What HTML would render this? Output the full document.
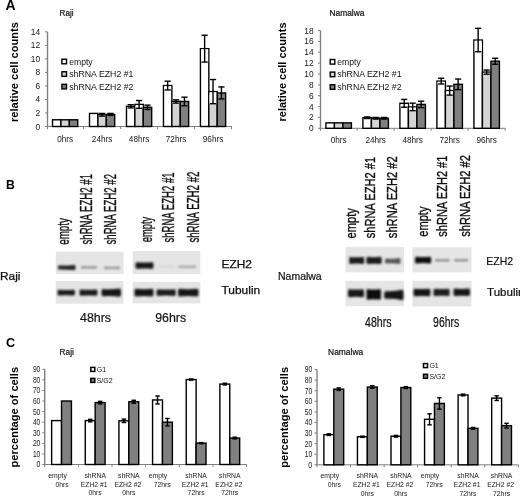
<!DOCTYPE html><html><head><meta charset="utf-8"><style>html,body{margin:0;padding:0;background:#fff;}svg{display:block;filter:grayscale(1);}text{font-family:"Liberation Sans",sans-serif;}</style></head><body>
<svg width="520" height="496" viewBox="0 0 520 496">
<defs><filter id="b1" x="-20%" y="-50%" width="140%" height="200%"><feGaussianBlur stdDeviation="1.0"/></filter><filter id="b2" x="-20%" y="-50%" width="140%" height="200%"><feGaussianBlur stdDeviation="0.6"/></filter></defs>
<rect width="520" height="496" fill="#fff"/>
<text x="5.60" y="9.60" font-size="14.0" font-weight="bold" text-anchor="start" fill="#000">A</text>
<line x1="47.50" y1="31.86" x2="47.50" y2="126.50" stroke="#808080" stroke-width="1.4"/>
<line x1="45.00" y1="126.50" x2="47.50" y2="126.50" stroke="#808080" stroke-width="1"/>
<text x="40.20" y="129.50" font-size="8.4" text-anchor="end" fill="#151515">0</text>
<line x1="45.00" y1="112.98" x2="47.50" y2="112.98" stroke="#808080" stroke-width="1"/>
<text x="40.20" y="115.98" font-size="8.4" text-anchor="end" fill="#151515">2</text>
<line x1="45.00" y1="99.46" x2="47.50" y2="99.46" stroke="#808080" stroke-width="1"/>
<text x="40.20" y="102.46" font-size="8.4" text-anchor="end" fill="#151515">4</text>
<line x1="45.00" y1="85.94" x2="47.50" y2="85.94" stroke="#808080" stroke-width="1"/>
<text x="40.20" y="88.94" font-size="8.4" text-anchor="end" fill="#151515">6</text>
<line x1="45.00" y1="72.42" x2="47.50" y2="72.42" stroke="#808080" stroke-width="1"/>
<text x="40.20" y="75.42" font-size="8.4" text-anchor="end" fill="#151515">8</text>
<line x1="45.00" y1="58.90" x2="47.50" y2="58.90" stroke="#808080" stroke-width="1"/>
<text x="40.20" y="61.90" font-size="8.4" text-anchor="end" fill="#151515">10</text>
<line x1="45.00" y1="45.38" x2="47.50" y2="45.38" stroke="#808080" stroke-width="1"/>
<text x="40.20" y="48.38" font-size="8.4" text-anchor="end" fill="#151515">12</text>
<line x1="45.00" y1="31.86" x2="47.50" y2="31.86" stroke="#808080" stroke-width="1"/>
<text x="40.20" y="34.86" font-size="8.4" text-anchor="end" fill="#151515">14</text>
<line x1="46.50" y1="126.50" x2="231.70" y2="126.50" stroke="#808080" stroke-width="1"/>
<line x1="47.50" y1="126.50" x2="47.50" y2="129.00" stroke="#808080" stroke-width="1"/>
<line x1="83.62" y1="126.50" x2="83.62" y2="129.00" stroke="#808080" stroke-width="1"/>
<line x1="120.59" y1="126.50" x2="120.59" y2="129.00" stroke="#808080" stroke-width="1"/>
<line x1="157.57" y1="126.50" x2="157.57" y2="129.00" stroke="#808080" stroke-width="1"/>
<line x1="194.54" y1="126.50" x2="194.54" y2="129.00" stroke="#808080" stroke-width="1"/>
<line x1="231.52" y1="126.50" x2="231.52" y2="129.00" stroke="#808080" stroke-width="1"/>
<rect x="52.53" y="119.79" width="8.40" height="6.71" fill="#ffffff" stroke="#000" stroke-width="1.4"/>
<rect x="60.93" y="119.79" width="8.40" height="6.71" fill="#d4d4d4" stroke="#000" stroke-width="1.4"/>
<rect x="69.33" y="119.79" width="8.40" height="6.71" fill="#808080" stroke="#000" stroke-width="1.4"/>
<text x="65.13" y="141.50" font-size="8.2" text-anchor="middle" fill="#151515">0hrs</text>
<rect x="89.50" y="113.42" width="8.40" height="13.08" fill="#ffffff" stroke="#000" stroke-width="1.4"/>
<rect x="97.91" y="114.76" width="8.40" height="11.74" fill="#d4d4d4" stroke="#000" stroke-width="1.4"/>
<rect x="98.61" y="115.46" width="7.00" height="0.64" fill="#fff"/>
<line x1="102.11" y1="113.42" x2="102.11" y2="116.10" stroke="#000" stroke-width="1.4"/>
<line x1="99.01" y1="113.42" x2="105.20" y2="113.42" stroke="#000" stroke-width="1.4"/>
<line x1="99.01" y1="116.10" x2="105.20" y2="116.10" stroke="#000" stroke-width="1.4"/>
<rect x="106.30" y="114.42" width="8.40" height="12.08" fill="#808080" stroke="#000" stroke-width="1.4"/>
<line x1="110.50" y1="113.42" x2="110.50" y2="115.43" stroke="#000" stroke-width="1.4"/>
<line x1="107.41" y1="113.42" x2="113.60" y2="113.42" stroke="#000" stroke-width="1.4"/>
<line x1="107.41" y1="115.43" x2="113.60" y2="115.43" stroke="#000" stroke-width="1.4"/>
<text x="102.10" y="141.50" font-size="8.2" text-anchor="middle" fill="#151515">24hrs</text>
<rect x="126.48" y="106.30" width="8.40" height="20.20" fill="#ffffff" stroke="#000" stroke-width="1.4"/>
<rect x="127.18" y="107.00" width="7.00" height="0.91" fill="#fff"/>
<line x1="130.68" y1="104.69" x2="130.68" y2="107.91" stroke="#000" stroke-width="1.4"/>
<line x1="127.58" y1="104.69" x2="133.78" y2="104.69" stroke="#000" stroke-width="1.4"/>
<line x1="127.58" y1="107.91" x2="133.78" y2="107.91" stroke="#000" stroke-width="1.4"/>
<rect x="134.88" y="104.42" width="8.40" height="22.08" fill="#d4d4d4" stroke="#000" stroke-width="1.4"/>
<rect x="135.58" y="105.12" width="7.00" height="3.19" fill="#fff"/>
<line x1="139.08" y1="100.53" x2="139.08" y2="108.32" stroke="#000" stroke-width="1.4"/>
<line x1="135.98" y1="100.53" x2="142.18" y2="100.53" stroke="#000" stroke-width="1.4"/>
<line x1="135.98" y1="108.32" x2="142.18" y2="108.32" stroke="#000" stroke-width="1.4"/>
<rect x="143.28" y="107.31" width="8.40" height="19.19" fill="#808080" stroke="#000" stroke-width="1.4"/>
<line x1="147.48" y1="105.16" x2="147.48" y2="109.46" stroke="#000" stroke-width="1.4"/>
<line x1="144.38" y1="105.16" x2="150.58" y2="105.16" stroke="#000" stroke-width="1.4"/>
<line x1="144.38" y1="109.46" x2="150.58" y2="109.46" stroke="#000" stroke-width="1.4"/>
<text x="139.08" y="141.50" font-size="8.2" text-anchor="middle" fill="#151515">48hrs</text>
<rect x="163.46" y="85.57" width="8.40" height="40.93" fill="#ffffff" stroke="#000" stroke-width="1.4"/>
<rect x="164.16" y="86.27" width="7.00" height="3.66" fill="#fff"/>
<line x1="167.66" y1="81.21" x2="167.66" y2="89.93" stroke="#000" stroke-width="1.4"/>
<line x1="164.56" y1="81.21" x2="170.75" y2="81.21" stroke="#000" stroke-width="1.4"/>
<line x1="164.56" y1="89.93" x2="170.75" y2="89.93" stroke="#000" stroke-width="1.4"/>
<rect x="171.86" y="101.47" width="8.40" height="25.03" fill="#d4d4d4" stroke="#000" stroke-width="1.4"/>
<rect x="172.56" y="102.17" width="7.00" height="0.91" fill="#fff"/>
<line x1="176.06" y1="99.86" x2="176.06" y2="103.08" stroke="#000" stroke-width="1.4"/>
<line x1="172.96" y1="99.86" x2="179.16" y2="99.86" stroke="#000" stroke-width="1.4"/>
<line x1="172.96" y1="103.08" x2="179.16" y2="103.08" stroke="#000" stroke-width="1.4"/>
<rect x="180.26" y="101.47" width="8.40" height="25.03" fill="#808080" stroke="#000" stroke-width="1.4"/>
<line x1="184.46" y1="97.18" x2="184.46" y2="105.77" stroke="#000" stroke-width="1.4"/>
<line x1="181.36" y1="97.18" x2="187.56" y2="97.18" stroke="#000" stroke-width="1.4"/>
<line x1="181.36" y1="105.77" x2="187.56" y2="105.77" stroke="#000" stroke-width="1.4"/>
<text x="176.06" y="141.50" font-size="8.2" text-anchor="middle" fill="#151515">72hrs</text>
<rect x="200.43" y="48.66" width="8.40" height="77.84" fill="#ffffff" stroke="#000" stroke-width="1.4"/>
<rect x="201.13" y="49.36" width="7.00" height="12.72" fill="#fff"/>
<line x1="204.63" y1="35.24" x2="204.63" y2="62.08" stroke="#000" stroke-width="1.4"/>
<line x1="201.53" y1="35.24" x2="207.73" y2="35.24" stroke="#000" stroke-width="1.4"/>
<line x1="201.53" y1="62.08" x2="207.73" y2="62.08" stroke="#000" stroke-width="1.4"/>
<rect x="208.83" y="91.61" width="8.40" height="34.89" fill="#d4d4d4" stroke="#000" stroke-width="1.4"/>
<rect x="209.53" y="92.31" width="7.00" height="11.38" fill="#fff"/>
<line x1="213.03" y1="79.53" x2="213.03" y2="103.69" stroke="#000" stroke-width="1.4"/>
<line x1="209.93" y1="79.53" x2="216.13" y2="79.53" stroke="#000" stroke-width="1.4"/>
<line x1="209.93" y1="103.69" x2="216.13" y2="103.69" stroke="#000" stroke-width="1.4"/>
<rect x="217.23" y="92.95" width="8.40" height="33.55" fill="#808080" stroke="#000" stroke-width="1.4"/>
<line x1="221.43" y1="86.91" x2="221.43" y2="98.99" stroke="#000" stroke-width="1.4"/>
<line x1="218.33" y1="86.91" x2="224.53" y2="86.91" stroke="#000" stroke-width="1.4"/>
<line x1="218.33" y1="98.99" x2="224.53" y2="98.99" stroke="#000" stroke-width="1.4"/>
<text x="213.03" y="141.50" font-size="8.2" text-anchor="middle" fill="#151515">96hrs</text>
<text x="59.60" y="16.20" font-size="8.3" text-anchor="start" fill="#111" textLength="13.90" lengthAdjust="spacingAndGlyphs" stroke="#111" stroke-width="0.2">Raji</text>
<text transform="translate(17.80,122.00) rotate(-90)" font-size="11.2" font-weight="bold" text-anchor="start" fill="#000" textLength="100.00" lengthAdjust="spacingAndGlyphs">relative cell counts</text>
<rect x="61.90" y="59.20" width="4.60" height="4.60" fill="#ffffff" stroke="#000" stroke-width="1.4"/>
<text x="69.20" y="64.50" font-size="8.6" text-anchor="start" fill="#111">empty</text>
<rect x="61.90" y="71.75" width="4.60" height="4.60" fill="#d4d4d4" stroke="#000" stroke-width="1.4"/>
<text x="69.20" y="77.05" font-size="8.6" text-anchor="start" fill="#111" textLength="64.30" lengthAdjust="spacingAndGlyphs">shRNA EZH2 #1</text>
<rect x="61.90" y="84.30" width="4.60" height="4.60" fill="#808080" stroke="#000" stroke-width="1.4"/>
<text x="69.20" y="89.60" font-size="8.6" text-anchor="start" fill="#111" textLength="64.30" lengthAdjust="spacingAndGlyphs">shRNA EZH2 #2</text>
<line x1="320.50" y1="30.56" x2="320.50" y2="128.30" stroke="#808080" stroke-width="1.4"/>
<line x1="318.00" y1="128.30" x2="320.50" y2="128.30" stroke="#808080" stroke-width="1"/>
<text x="313.60" y="131.30" font-size="8.4" text-anchor="end" fill="#151515">0</text>
<line x1="318.00" y1="117.44" x2="320.50" y2="117.44" stroke="#808080" stroke-width="1"/>
<text x="313.60" y="120.44" font-size="8.4" text-anchor="end" fill="#151515">2</text>
<line x1="318.00" y1="106.58" x2="320.50" y2="106.58" stroke="#808080" stroke-width="1"/>
<text x="313.60" y="109.58" font-size="8.4" text-anchor="end" fill="#151515">4</text>
<line x1="318.00" y1="95.72" x2="320.50" y2="95.72" stroke="#808080" stroke-width="1"/>
<text x="313.60" y="98.72" font-size="8.4" text-anchor="end" fill="#151515">6</text>
<line x1="318.00" y1="84.86" x2="320.50" y2="84.86" stroke="#808080" stroke-width="1"/>
<text x="313.60" y="87.86" font-size="8.4" text-anchor="end" fill="#151515">8</text>
<line x1="318.00" y1="74.00" x2="320.50" y2="74.00" stroke="#808080" stroke-width="1"/>
<text x="313.60" y="77.00" font-size="8.4" text-anchor="end" fill="#151515">10</text>
<line x1="318.00" y1="63.14" x2="320.50" y2="63.14" stroke="#808080" stroke-width="1"/>
<text x="313.60" y="66.14" font-size="8.4" text-anchor="end" fill="#151515">12</text>
<line x1="318.00" y1="52.28" x2="320.50" y2="52.28" stroke="#808080" stroke-width="1"/>
<text x="313.60" y="55.28" font-size="8.4" text-anchor="end" fill="#151515">14</text>
<line x1="318.00" y1="41.42" x2="320.50" y2="41.42" stroke="#808080" stroke-width="1"/>
<text x="313.60" y="44.42" font-size="8.4" text-anchor="end" fill="#151515">16</text>
<line x1="318.00" y1="30.56" x2="320.50" y2="30.56" stroke="#808080" stroke-width="1"/>
<text x="313.60" y="33.56" font-size="8.4" text-anchor="end" fill="#151515">18</text>
<line x1="319.50" y1="128.30" x2="505.00" y2="128.30" stroke="#808080" stroke-width="1"/>
<line x1="320.50" y1="128.30" x2="320.50" y2="130.80" stroke="#808080" stroke-width="1"/>
<line x1="357.16" y1="128.30" x2="357.16" y2="130.80" stroke="#808080" stroke-width="1"/>
<line x1="394.16" y1="128.30" x2="394.16" y2="130.80" stroke="#808080" stroke-width="1"/>
<line x1="431.16" y1="128.30" x2="431.16" y2="130.80" stroke="#808080" stroke-width="1"/>
<line x1="468.16" y1="128.30" x2="468.16" y2="130.80" stroke="#808080" stroke-width="1"/>
<line x1="505.16" y1="128.30" x2="505.16" y2="130.80" stroke="#808080" stroke-width="1"/>
<rect x="325.91" y="122.87" width="8.50" height="5.43" fill="#ffffff" stroke="#000" stroke-width="1.4"/>
<rect x="334.41" y="122.87" width="8.50" height="5.43" fill="#d4d4d4" stroke="#000" stroke-width="1.4"/>
<rect x="342.91" y="122.87" width="8.50" height="5.43" fill="#808080" stroke="#000" stroke-width="1.4"/>
<text x="338.66" y="143.00" font-size="8.2" text-anchor="middle" fill="#151515">0hrs</text>
<rect x="362.91" y="117.71" width="8.50" height="10.59" fill="#ffffff" stroke="#000" stroke-width="1.4"/>
<rect x="363.61" y="118.41" width="7.10" height="0.11" fill="#fff"/>
<line x1="367.16" y1="116.90" x2="367.16" y2="118.53" stroke="#000" stroke-width="1.4"/>
<line x1="364.06" y1="116.90" x2="370.26" y2="116.90" stroke="#000" stroke-width="1.4"/>
<line x1="364.06" y1="118.53" x2="370.26" y2="118.53" stroke="#000" stroke-width="1.4"/>
<rect x="371.41" y="118.25" width="8.50" height="10.05" fill="#d4d4d4" stroke="#000" stroke-width="1.4"/>
<rect x="372.11" y="118.95" width="7.10" height="0.11" fill="#fff"/>
<line x1="375.66" y1="117.44" x2="375.66" y2="119.07" stroke="#000" stroke-width="1.4"/>
<line x1="372.56" y1="117.44" x2="378.76" y2="117.44" stroke="#000" stroke-width="1.4"/>
<line x1="372.56" y1="119.07" x2="378.76" y2="119.07" stroke="#000" stroke-width="1.4"/>
<rect x="379.91" y="118.25" width="8.50" height="10.05" fill="#808080" stroke="#000" stroke-width="1.4"/>
<line x1="384.16" y1="117.44" x2="384.16" y2="119.07" stroke="#000" stroke-width="1.4"/>
<line x1="381.06" y1="117.44" x2="387.26" y2="117.44" stroke="#000" stroke-width="1.4"/>
<line x1="381.06" y1="119.07" x2="387.26" y2="119.07" stroke="#000" stroke-width="1.4"/>
<text x="375.66" y="143.00" font-size="8.2" text-anchor="middle" fill="#151515">24hrs</text>
<rect x="399.91" y="103.32" width="8.50" height="24.98" fill="#ffffff" stroke="#000" stroke-width="1.4"/>
<rect x="400.61" y="104.02" width="7.10" height="3.21" fill="#fff"/>
<line x1="404.16" y1="99.41" x2="404.16" y2="107.23" stroke="#000" stroke-width="1.4"/>
<line x1="401.06" y1="99.41" x2="407.26" y2="99.41" stroke="#000" stroke-width="1.4"/>
<line x1="401.06" y1="107.23" x2="407.26" y2="107.23" stroke="#000" stroke-width="1.4"/>
<rect x="408.41" y="106.91" width="8.50" height="21.39" fill="#d4d4d4" stroke="#000" stroke-width="1.4"/>
<rect x="409.11" y="107.61" width="7.10" height="3.05" fill="#fff"/>
<line x1="412.66" y1="103.16" x2="412.66" y2="110.65" stroke="#000" stroke-width="1.4"/>
<line x1="409.56" y1="103.16" x2="415.76" y2="103.16" stroke="#000" stroke-width="1.4"/>
<line x1="409.56" y1="110.65" x2="415.76" y2="110.65" stroke="#000" stroke-width="1.4"/>
<rect x="416.91" y="104.41" width="8.50" height="23.89" fill="#808080" stroke="#000" stroke-width="1.4"/>
<line x1="421.16" y1="101.20" x2="421.16" y2="107.61" stroke="#000" stroke-width="1.4"/>
<line x1="418.06" y1="101.20" x2="424.26" y2="101.20" stroke="#000" stroke-width="1.4"/>
<line x1="418.06" y1="107.61" x2="424.26" y2="107.61" stroke="#000" stroke-width="1.4"/>
<text x="412.66" y="143.00" font-size="8.2" text-anchor="middle" fill="#151515">48hrs</text>
<rect x="436.91" y="81.11" width="8.50" height="47.19" fill="#ffffff" stroke="#000" stroke-width="1.4"/>
<rect x="437.61" y="81.81" width="7.10" height="2.18" fill="#fff"/>
<line x1="441.16" y1="78.24" x2="441.16" y2="83.99" stroke="#000" stroke-width="1.4"/>
<line x1="438.06" y1="78.24" x2="444.26" y2="78.24" stroke="#000" stroke-width="1.4"/>
<line x1="438.06" y1="83.99" x2="444.26" y2="83.99" stroke="#000" stroke-width="1.4"/>
<rect x="445.41" y="90.56" width="8.50" height="37.74" fill="#d4d4d4" stroke="#000" stroke-width="1.4"/>
<rect x="446.11" y="91.26" width="7.10" height="3.81" fill="#fff"/>
<line x1="449.66" y1="86.05" x2="449.66" y2="95.07" stroke="#000" stroke-width="1.4"/>
<line x1="446.56" y1="86.05" x2="452.76" y2="86.05" stroke="#000" stroke-width="1.4"/>
<line x1="446.56" y1="95.07" x2="452.76" y2="95.07" stroke="#000" stroke-width="1.4"/>
<rect x="453.91" y="84.32" width="8.50" height="43.98" fill="#808080" stroke="#000" stroke-width="1.4"/>
<line x1="458.16" y1="79.05" x2="458.16" y2="89.58" stroke="#000" stroke-width="1.4"/>
<line x1="455.06" y1="79.05" x2="461.26" y2="79.05" stroke="#000" stroke-width="1.4"/>
<line x1="455.06" y1="89.58" x2="461.26" y2="89.58" stroke="#000" stroke-width="1.4"/>
<text x="449.66" y="143.00" font-size="8.2" text-anchor="middle" fill="#151515">72hrs</text>
<rect x="473.91" y="40.06" width="8.50" height="88.24" fill="#ffffff" stroke="#000" stroke-width="1.4"/>
<rect x="474.61" y="40.76" width="7.10" height="11.03" fill="#fff"/>
<line x1="478.16" y1="28.33" x2="478.16" y2="51.79" stroke="#000" stroke-width="1.4"/>
<line x1="475.06" y1="28.33" x2="481.26" y2="28.33" stroke="#000" stroke-width="1.4"/>
<line x1="475.06" y1="51.79" x2="481.26" y2="51.79" stroke="#000" stroke-width="1.4"/>
<rect x="482.41" y="72.10" width="8.50" height="56.20" fill="#d4d4d4" stroke="#000" stroke-width="1.4"/>
<rect x="483.11" y="72.80" width="7.10" height="1.36" fill="#fff"/>
<line x1="486.66" y1="70.04" x2="486.66" y2="74.16" stroke="#000" stroke-width="1.4"/>
<line x1="483.56" y1="70.04" x2="489.76" y2="70.04" stroke="#000" stroke-width="1.4"/>
<line x1="483.56" y1="74.16" x2="489.76" y2="74.16" stroke="#000" stroke-width="1.4"/>
<rect x="490.91" y="61.24" width="8.50" height="67.06" fill="#808080" stroke="#000" stroke-width="1.4"/>
<line x1="495.16" y1="58.25" x2="495.16" y2="64.23" stroke="#000" stroke-width="1.4"/>
<line x1="492.06" y1="58.25" x2="498.26" y2="58.25" stroke="#000" stroke-width="1.4"/>
<line x1="492.06" y1="64.23" x2="498.26" y2="64.23" stroke="#000" stroke-width="1.4"/>
<text x="486.66" y="143.00" font-size="8.2" text-anchor="middle" fill="#151515">96hrs</text>
<text x="329.50" y="15.60" font-size="8.3" text-anchor="start" fill="#111" textLength="34.90" lengthAdjust="spacingAndGlyphs" stroke="#111" stroke-width="0.2">Namalwa</text>
<text transform="translate(286.00,121.50) rotate(-90)" font-size="11.2" font-weight="bold" text-anchor="start" fill="#000" textLength="99.00" lengthAdjust="spacingAndGlyphs">relative cell counts</text>
<rect x="330.20" y="59.50" width="4.60" height="4.60" fill="#ffffff" stroke="#000" stroke-width="1.4"/>
<text x="337.30" y="64.80" font-size="8.6" text-anchor="start" fill="#111">empty</text>
<rect x="330.20" y="72.10" width="4.60" height="4.60" fill="#d4d4d4" stroke="#000" stroke-width="1.4"/>
<text x="337.30" y="77.40" font-size="8.6" text-anchor="start" fill="#111" textLength="64.30" lengthAdjust="spacingAndGlyphs">shRNA EZH2 #1</text>
<rect x="330.20" y="84.70" width="4.60" height="4.60" fill="#808080" stroke="#000" stroke-width="1.4"/>
<text x="337.30" y="90.00" font-size="8.6" text-anchor="start" fill="#111" textLength="64.30" lengthAdjust="spacingAndGlyphs">shRNA EZH2 #2</text>
<text x="6.00" y="189.40" font-size="12.2" font-weight="bold" text-anchor="start" fill="#000">B</text>
<rect x="55.80" y="251.80" width="67.70" height="22.40" fill="#e5e5e5" filter="url(#b2)"/>
<path d="M58.00,266.82 Q58.00,265.55 59.05,265.55 Q66.75,265.64 74.45,264.97 Q75.50,264.97 75.50,266.61 L75.50,268.39 Q75.50,270.03 74.45,270.03 Q66.75,269.36 59.05,269.45 Q58.00,269.45 58.00,268.18 Z" fill="#222" filter="url(#b1)"/>
<path d="M81.00,266.94 Q81.00,266.10 81.96,266.10 Q89.00,266.35 96.04,266.10 Q97.00,266.10 97.00,266.94 L97.00,267.85 Q97.00,268.70 96.04,268.70 Q89.00,268.45 81.96,268.70 Q81.00,268.70 81.00,267.85 Z" fill="#989898" filter="url(#b1)"/>
<path d="M104.00,267.44 Q104.00,266.60 104.96,266.60 Q112.00,266.85 119.04,266.60 Q120.00,266.60 120.00,267.44 L120.00,268.35 Q120.00,269.20 119.04,269.20 Q112.00,268.95 104.96,269.20 Q104.00,269.20 104.00,268.35 Z" fill="#9c9c9c" filter="url(#b1)"/>
<rect x="55.80" y="281.00" width="67.70" height="22.70" fill="#e5e5e5" filter="url(#b2)"/>
<path d="M57.50,291.62 Q57.50,289.80 58.55,289.80 Q66.25,290.34 73.95,289.80 Q75.00,289.80 75.00,291.62 L75.00,293.58 Q75.00,295.40 73.95,295.40 Q66.25,294.86 58.55,295.40 Q57.50,295.40 57.50,293.58 Z" fill="#1e1e1e" filter="url(#b1)"/>
<path d="M79.50,291.48 Q79.50,289.40 80.58,289.40 Q88.50,290.02 96.42,289.40 Q97.50,289.40 97.50,291.48 L97.50,293.72 Q97.50,295.80 96.42,295.80 Q88.50,295.18 80.58,295.80 Q79.50,295.80 79.50,293.72 Z" fill="#1e1e1e" filter="url(#b1)"/>
<path d="M101.50,291.34 Q101.50,289.00 102.67,289.00 Q111.25,289.69 119.83,288.46 Q121.00,288.46 121.00,291.15 L121.00,294.05 Q121.00,296.74 119.83,296.74 Q111.25,295.51 102.67,296.20 Q101.50,296.20 101.50,293.86 Z" fill="#181818" filter="url(#b1)"/>
<rect x="132.70" y="251.00" width="67.70" height="23.20" fill="#e5e5e5" filter="url(#b2)"/>
<path d="M135.50,264.38 Q135.50,262.30 136.58,262.30 Q144.50,262.92 152.42,262.30 Q153.50,262.30 153.50,264.38 L153.50,266.62 Q153.50,268.70 152.42,268.70 Q144.50,268.08 136.58,268.70 Q135.50,268.70 135.50,266.62 Z" fill="#151515" filter="url(#b1)"/>
<path d="M158.00,266.22 Q158.00,265.70 159.02,265.70 Q166.50,265.85 173.98,265.70 Q175.00,265.70 175.00,266.22 L175.00,266.78 Q175.00,267.30 173.98,267.30 Q166.50,267.15 159.02,267.30 Q158.00,267.30 158.00,266.78 Z" fill="#d2d2d2" filter="url(#b1)"/>
<path d="M178.50,266.35 Q178.50,265.50 179.55,265.50 Q187.25,265.75 194.95,265.50 Q196.00,265.50 196.00,266.35 L196.00,267.25 Q196.00,268.10 194.95,268.10 Q187.25,267.85 179.55,268.10 Q178.50,268.10 178.50,267.25 Z" fill="#a8a8a8" filter="url(#b1)"/>
<rect x="132.70" y="281.80" width="67.70" height="21.60" fill="#e5e5e5" filter="url(#b2)"/>
<path d="M134.50,291.27 Q134.50,288.80 135.64,288.80 Q144.00,289.53 152.36,288.80 Q153.50,288.80 153.50,291.27 L153.50,293.93 Q153.50,296.40 152.36,296.40 Q144.00,295.67 135.64,296.40 Q134.50,296.40 134.50,293.93 Z" fill="#181818" filter="url(#b1)"/>
<path d="M156.50,291.45 Q156.50,289.30 157.66,289.30 Q166.15,289.94 174.64,289.30 Q175.80,289.30 175.80,291.45 L175.80,293.75 Q175.80,295.90 174.64,295.90 Q166.15,295.26 157.66,295.90 Q156.50,295.90 156.50,293.75 Z" fill="#1e1e1e" filter="url(#b1)"/>
<path d="M178.00,291.27 Q178.00,288.80 179.23,288.80 Q188.25,289.53 197.27,288.80 Q198.50,288.80 198.50,291.27 L198.50,293.93 Q198.50,296.40 197.27,296.40 Q188.25,295.67 179.23,296.40 Q178.00,296.40 178.00,293.93 Z" fill="#181818" filter="url(#b1)"/>
<rect x="345.50" y="246.90" width="58.40" height="25.40" fill="#e5e5e5" filter="url(#b2)"/>
<path d="M349.20,259.17 Q349.20,256.90 350.10,256.90 Q356.70,257.57 363.30,256.90 Q364.20,256.90 364.20,259.17 L364.20,261.62 Q364.20,263.90 363.30,263.90 Q356.70,263.23 350.10,263.90 Q349.20,263.90 349.20,261.62 Z" fill="#1a1a1a" filter="url(#b1)"/>
<path d="M366.50,259.14 Q366.50,256.80 367.41,256.80 Q374.05,257.49 380.69,256.80 Q381.60,256.80 381.60,259.14 L381.60,261.66 Q381.60,264.00 380.69,264.00 Q374.05,263.31 367.41,264.00 Q366.50,264.00 366.50,261.66 Z" fill="#1a1a1a" filter="url(#b1)"/>
<path d="M385.00,260.15 Q385.00,258.57 385.92,258.57 Q392.70,259.08 399.48,257.89 Q400.40,257.89 400.40,259.91 L400.40,262.09 Q400.40,264.11 399.48,264.11 Q392.70,262.92 385.92,263.43 Q385.00,263.43 385.00,261.85 Z" fill="#555555" filter="url(#b1)"/>
<rect x="345.50" y="280.80" width="58.40" height="25.40" fill="#e5e5e5" filter="url(#b2)"/>
<path d="M348.00,291.80 Q348.00,289.20 348.96,289.20 Q356.00,289.97 363.04,289.20 Q364.00,289.20 364.00,291.80 L364.00,294.60 Q364.00,297.20 363.04,297.20 Q356.00,296.43 348.96,297.20 Q348.00,297.20 348.00,294.60 Z" fill="#151515" filter="url(#b1)"/>
<path d="M366.50,292.54 Q366.50,289.10 367.37,289.10 Q373.75,290.12 380.13,289.10 Q381.00,289.10 381.00,292.54 L381.00,296.25 Q381.00,299.70 380.13,299.70 Q373.75,298.68 367.37,299.70 Q366.50,299.70 366.50,296.25 Z" fill="#111111" filter="url(#b1)"/>
<path d="M384.20,293.65 Q384.20,291.13 385.36,291.13 Q393.85,291.73 402.34,289.84 Q403.50,289.84 403.50,293.19 L403.50,296.81 Q403.50,300.16 402.34,300.16 Q393.85,298.27 385.36,298.87 Q384.20,298.87 384.20,296.35 Z" fill="#151515" filter="url(#b1)"/>
<rect x="412.40" y="247.40" width="59.10" height="24.90" fill="#e5e5e5" filter="url(#b2)"/>
<path d="M415.00,258.95 Q415.00,256.80 415.97,256.80 Q423.10,257.44 430.23,256.80 Q431.20,256.80 431.20,258.95 L431.20,261.25 Q431.20,263.40 430.23,263.40 Q423.10,262.76 415.97,263.40 Q415.00,263.40 415.00,261.25 Z" fill="#0e0e0e" filter="url(#b1)"/>
<path d="M435.00,259.88 Q435.00,259.10 435.88,259.10 Q442.30,259.33 448.72,259.10 Q449.60,259.10 449.60,259.88 L449.60,260.72 Q449.60,261.50 448.72,261.50 Q442.30,261.27 435.88,261.50 Q435.00,261.50 435.00,260.72 Z" fill="#8f8f8f" filter="url(#b1)"/>
<path d="M454.20,259.88 Q454.20,259.10 455.03,259.10 Q461.10,259.33 467.17,259.10 Q468.00,259.10 468.00,259.88 L468.00,260.72 Q468.00,261.50 467.17,261.50 Q461.10,261.27 455.03,261.50 Q454.20,261.50 454.20,260.72 Z" fill="#8f8f8f" filter="url(#b1)"/>
<rect x="412.40" y="280.80" width="59.10" height="25.70" fill="#e5e5e5" filter="url(#b2)"/>
<path d="M413.50,291.17 Q413.50,288.70 414.51,288.70 Q421.95,289.43 429.39,288.70 Q430.40,288.70 430.40,291.17 L430.40,293.83 Q430.40,296.30 429.39,296.30 Q421.95,295.57 414.51,296.30 Q413.50,296.30 413.50,293.83 Z" fill="#181818" filter="url(#b1)"/>
<path d="M433.50,291.10 Q433.50,288.70 434.47,288.70 Q441.55,289.41 448.63,288.70 Q449.60,288.70 449.60,291.10 L449.60,293.69 Q449.60,296.10 448.63,296.10 Q441.55,295.39 434.47,296.10 Q433.50,296.10 433.50,293.69 Z" fill="#1e1e1e" filter="url(#b1)"/>
<path d="M453.50,291.00 Q453.50,288.60 454.49,288.60 Q461.75,289.31 469.01,288.60 Q470.00,288.60 470.00,291.00 L470.00,293.60 Q470.00,296.00 469.01,296.00 Q461.75,295.29 454.49,296.00 Q453.50,296.00 453.50,293.60 Z" fill="#181818" filter="url(#b1)"/>
<text transform="translate(69.00,244.80) rotate(-90)" font-size="15.6" text-anchor="start" fill="#111" textLength="26.70" lengthAdjust="spacingAndGlyphs" stroke="#111" stroke-width="0.35">empty</text>
<text transform="translate(91.80,244.50) rotate(-90)" font-size="15.6" text-anchor="start" fill="#111" textLength="70.50" lengthAdjust="spacingAndGlyphs" stroke="#111" stroke-width="0.35">shRNA EZH2 #1</text>
<text transform="translate(116.00,244.50) rotate(-90)" font-size="15.6" text-anchor="start" fill="#111" textLength="70.50" lengthAdjust="spacingAndGlyphs" stroke="#111" stroke-width="0.35">shRNA EZH2 #2</text>
<text transform="translate(152.20,242.30) rotate(-90)" font-size="15.6" text-anchor="start" fill="#111" textLength="25.50" lengthAdjust="spacingAndGlyphs" stroke="#111" stroke-width="0.35">empty</text>
<text transform="translate(174.30,242.60) rotate(-90)" font-size="15.6" text-anchor="start" fill="#111" textLength="70.20" lengthAdjust="spacingAndGlyphs" stroke="#111" stroke-width="0.35">shRNA EZH2 #1</text>
<text transform="translate(199.30,242.60) rotate(-90)" font-size="15.6" text-anchor="start" fill="#111" textLength="71.00" lengthAdjust="spacingAndGlyphs" stroke="#111" stroke-width="0.35">shRNA EZH2 #2</text>
<text transform="translate(355.60,238.40) rotate(-90)" font-size="14.0" text-anchor="start" fill="#111" textLength="30.20" lengthAdjust="spacingAndGlyphs" stroke="#111" stroke-width="0.35">empty</text>
<text transform="translate(375.30,238.20) rotate(-90)" font-size="14.0" text-anchor="start" fill="#111" textLength="81.30" lengthAdjust="spacingAndGlyphs" stroke="#111" stroke-width="0.35">shRNA EZH2 #1</text>
<text transform="translate(396.90,238.20) rotate(-90)" font-size="14.0" text-anchor="start" fill="#111" textLength="81.90" lengthAdjust="spacingAndGlyphs" stroke="#111" stroke-width="0.35">shRNA EZH2 #2</text>
<text transform="translate(428.20,236.70) rotate(-90)" font-size="14.0" text-anchor="start" fill="#111" textLength="30.20" lengthAdjust="spacingAndGlyphs" stroke="#111" stroke-width="0.35">empty</text>
<text transform="translate(447.30,236.70) rotate(-90)" font-size="14.0" text-anchor="start" fill="#111" textLength="81.10" lengthAdjust="spacingAndGlyphs" stroke="#111" stroke-width="0.35">shRNA EZH2 #1</text>
<text transform="translate(469.50,236.70) rotate(-90)" font-size="14.0" text-anchor="start" fill="#111" textLength="81.70" lengthAdjust="spacingAndGlyphs" stroke="#111" stroke-width="0.35">shRNA EZH2 #2</text>
<text x="221.50" y="268.30" font-size="10.4" text-anchor="start" fill="#111" textLength="30.50" lengthAdjust="spacingAndGlyphs" stroke="#111" stroke-width="0.25">EZH2</text>
<text x="221.50" y="293.80" font-size="10.0" text-anchor="start" fill="#111" textLength="38.70" lengthAdjust="spacingAndGlyphs" stroke="#111" stroke-width="0.25">Tubulin</text>
<text x="0.00" y="279.60" font-size="10.6" text-anchor="start" fill="#111" textLength="20.40" lengthAdjust="spacingAndGlyphs" stroke="#111" stroke-width="0.25">Raji</text>
<text x="80.00" y="321.90" font-size="13.4" text-anchor="start" fill="#111" textLength="31.00" lengthAdjust="spacingAndGlyphs" stroke="#111" stroke-width="0.2">48hrs</text>
<text x="155.20" y="321.90" font-size="13.4" text-anchor="start" fill="#111" textLength="31.00" lengthAdjust="spacingAndGlyphs" stroke="#111" stroke-width="0.2">96hrs</text>
<text x="486.30" y="265.30" font-size="10.6" text-anchor="start" fill="#111" textLength="26.70" lengthAdjust="spacingAndGlyphs" stroke="#111" stroke-width="0.2">EZH2</text>
<text x="487.00" y="295.60" font-size="10.6" text-anchor="start" fill="#111" textLength="37.50" lengthAdjust="spacingAndGlyphs" stroke="#111" stroke-width="0.2">Tubulin</text>
<text x="278.00" y="279.60" font-size="10.5" text-anchor="start" fill="#111" textLength="43.70" lengthAdjust="spacingAndGlyphs" stroke="#111" stroke-width="0.2">Namalwa</text>
<text x="365.00" y="326.50" font-size="14.4" text-anchor="start" fill="#111" textLength="26.50" lengthAdjust="spacingAndGlyphs" stroke="#111" stroke-width="0.2">48hrs</text>
<text x="433.10" y="326.50" font-size="14.4" text-anchor="start" fill="#111" textLength="26.10" lengthAdjust="spacingAndGlyphs" stroke="#111" stroke-width="0.2">96hrs</text>
<text x="6.10" y="347.40" font-size="12.6" font-weight="bold" text-anchor="start" fill="#000">C</text>
<line x1="44.70" y1="369.28" x2="44.70" y2="464.50" stroke="#808080" stroke-width="1.4"/>
<line x1="42.20" y1="464.50" x2="44.70" y2="464.50" stroke="#808080" stroke-width="1"/>
<text x="40.30" y="467.40" font-size="8.2" text-anchor="end" fill="#151515" textLength="3.90" lengthAdjust="spacingAndGlyphs">0</text>
<line x1="42.20" y1="453.92" x2="44.70" y2="453.92" stroke="#808080" stroke-width="1"/>
<text x="40.30" y="456.82" font-size="8.2" text-anchor="end" fill="#151515" textLength="7.40" lengthAdjust="spacingAndGlyphs">10</text>
<line x1="42.20" y1="443.34" x2="44.70" y2="443.34" stroke="#808080" stroke-width="1"/>
<text x="40.30" y="446.24" font-size="8.2" text-anchor="end" fill="#151515" textLength="7.40" lengthAdjust="spacingAndGlyphs">20</text>
<line x1="42.20" y1="432.76" x2="44.70" y2="432.76" stroke="#808080" stroke-width="1"/>
<text x="40.30" y="435.66" font-size="8.2" text-anchor="end" fill="#151515" textLength="7.40" lengthAdjust="spacingAndGlyphs">30</text>
<line x1="42.20" y1="422.18" x2="44.70" y2="422.18" stroke="#808080" stroke-width="1"/>
<text x="40.30" y="425.08" font-size="8.2" text-anchor="end" fill="#151515" textLength="7.40" lengthAdjust="spacingAndGlyphs">40</text>
<line x1="42.20" y1="411.60" x2="44.70" y2="411.60" stroke="#808080" stroke-width="1"/>
<text x="40.30" y="414.50" font-size="8.2" text-anchor="end" fill="#151515" textLength="7.40" lengthAdjust="spacingAndGlyphs">50</text>
<line x1="42.20" y1="401.02" x2="44.70" y2="401.02" stroke="#808080" stroke-width="1"/>
<text x="40.30" y="403.92" font-size="8.2" text-anchor="end" fill="#151515" textLength="7.40" lengthAdjust="spacingAndGlyphs">60</text>
<line x1="42.20" y1="390.44" x2="44.70" y2="390.44" stroke="#808080" stroke-width="1"/>
<text x="40.30" y="393.34" font-size="8.2" text-anchor="end" fill="#151515" textLength="7.40" lengthAdjust="spacingAndGlyphs">70</text>
<line x1="42.20" y1="379.86" x2="44.70" y2="379.86" stroke="#808080" stroke-width="1"/>
<text x="40.30" y="382.76" font-size="8.2" text-anchor="end" fill="#151515" textLength="7.40" lengthAdjust="spacingAndGlyphs">80</text>
<line x1="42.20" y1="369.28" x2="44.70" y2="369.28" stroke="#808080" stroke-width="1"/>
<text x="40.30" y="372.18" font-size="8.2" text-anchor="end" fill="#151515" textLength="7.40" lengthAdjust="spacingAndGlyphs">90</text>
<line x1="43.70" y1="464.50" x2="246.60" y2="464.50" stroke="#808080" stroke-width="1"/>
<line x1="44.70" y1="464.50" x2="44.70" y2="467.00" stroke="#808080" stroke-width="1"/>
<line x1="78.35" y1="464.50" x2="78.35" y2="467.00" stroke="#808080" stroke-width="1"/>
<line x1="112.00" y1="464.50" x2="112.00" y2="467.00" stroke="#808080" stroke-width="1"/>
<line x1="145.65" y1="464.50" x2="145.65" y2="467.00" stroke="#808080" stroke-width="1"/>
<line x1="179.30" y1="464.50" x2="179.30" y2="467.00" stroke="#808080" stroke-width="1"/>
<line x1="212.95" y1="464.50" x2="212.95" y2="467.00" stroke="#808080" stroke-width="1"/>
<line x1="246.60" y1="464.50" x2="246.60" y2="467.00" stroke="#808080" stroke-width="1"/>
<rect x="51.63" y="420.59" width="9.90" height="43.91" fill="#fff" stroke="#000" stroke-width="1.4"/>
<rect x="61.53" y="401.02" width="9.90" height="63.48" fill="#808080" stroke="#000" stroke-width="1.4"/>
<rect x="85.27" y="420.59" width="9.90" height="43.91" fill="#fff" stroke="#000" stroke-width="1.4"/>
<line x1="90.22" y1="419.32" x2="90.22" y2="421.86" stroke="#000" stroke-width="1.4"/>
<line x1="87.97" y1="419.32" x2="92.47" y2="419.32" stroke="#000" stroke-width="1.4"/>
<line x1="87.97" y1="421.86" x2="92.47" y2="421.86" stroke="#000" stroke-width="1.4"/>
<rect x="95.17" y="402.61" width="9.90" height="61.89" fill="#808080" stroke="#000" stroke-width="1.4"/>
<line x1="100.12" y1="401.34" x2="100.12" y2="403.88" stroke="#000" stroke-width="1.4"/>
<line x1="97.88" y1="401.34" x2="102.38" y2="401.34" stroke="#000" stroke-width="1.4"/>
<line x1="97.88" y1="403.88" x2="102.38" y2="403.88" stroke="#000" stroke-width="1.4"/>
<rect x="118.92" y="420.80" width="9.90" height="43.70" fill="#fff" stroke="#000" stroke-width="1.4"/>
<line x1="123.87" y1="419.11" x2="123.87" y2="422.50" stroke="#000" stroke-width="1.4"/>
<line x1="121.62" y1="419.11" x2="126.12" y2="419.11" stroke="#000" stroke-width="1.4"/>
<line x1="121.62" y1="422.50" x2="126.12" y2="422.50" stroke="#000" stroke-width="1.4"/>
<rect x="128.82" y="401.76" width="9.90" height="62.74" fill="#808080" stroke="#000" stroke-width="1.4"/>
<line x1="133.77" y1="400.28" x2="133.77" y2="403.24" stroke="#000" stroke-width="1.4"/>
<line x1="131.52" y1="400.28" x2="136.02" y2="400.28" stroke="#000" stroke-width="1.4"/>
<line x1="131.52" y1="403.24" x2="136.02" y2="403.24" stroke="#000" stroke-width="1.4"/>
<rect x="152.57" y="399.96" width="9.90" height="64.54" fill="#fff" stroke="#000" stroke-width="1.4"/>
<line x1="157.52" y1="395.94" x2="157.52" y2="403.98" stroke="#000" stroke-width="1.4"/>
<line x1="155.27" y1="395.94" x2="159.77" y2="395.94" stroke="#000" stroke-width="1.4"/>
<line x1="155.27" y1="403.98" x2="159.77" y2="403.98" stroke="#000" stroke-width="1.4"/>
<rect x="162.47" y="422.18" width="9.90" height="42.32" fill="#808080" stroke="#000" stroke-width="1.4"/>
<line x1="167.42" y1="418.48" x2="167.42" y2="425.88" stroke="#000" stroke-width="1.4"/>
<line x1="165.17" y1="418.48" x2="169.67" y2="418.48" stroke="#000" stroke-width="1.4"/>
<line x1="165.17" y1="425.88" x2="169.67" y2="425.88" stroke="#000" stroke-width="1.4"/>
<rect x="186.22" y="379.54" width="9.90" height="84.96" fill="#fff" stroke="#000" stroke-width="1.4"/>
<line x1="191.17" y1="378.91" x2="191.17" y2="380.18" stroke="#000" stroke-width="1.4"/>
<line x1="188.92" y1="378.91" x2="193.42" y2="378.91" stroke="#000" stroke-width="1.4"/>
<line x1="188.92" y1="380.18" x2="193.42" y2="380.18" stroke="#000" stroke-width="1.4"/>
<rect x="196.12" y="443.13" width="9.90" height="21.37" fill="#808080" stroke="#000" stroke-width="1.4"/>
<line x1="201.07" y1="442.60" x2="201.07" y2="443.66" stroke="#000" stroke-width="1.4"/>
<line x1="198.82" y1="442.60" x2="203.32" y2="442.60" stroke="#000" stroke-width="1.4"/>
<line x1="198.82" y1="443.66" x2="203.32" y2="443.66" stroke="#000" stroke-width="1.4"/>
<rect x="219.87" y="384.09" width="9.90" height="80.41" fill="#fff" stroke="#000" stroke-width="1.4"/>
<line x1="224.82" y1="383.25" x2="224.82" y2="384.94" stroke="#000" stroke-width="1.4"/>
<line x1="222.57" y1="383.25" x2="227.07" y2="383.25" stroke="#000" stroke-width="1.4"/>
<line x1="222.57" y1="384.94" x2="227.07" y2="384.94" stroke="#000" stroke-width="1.4"/>
<rect x="229.77" y="438.05" width="9.90" height="26.45" fill="#808080" stroke="#000" stroke-width="1.4"/>
<line x1="234.72" y1="437.20" x2="234.72" y2="438.90" stroke="#000" stroke-width="1.4"/>
<line x1="232.47" y1="437.20" x2="236.97" y2="437.20" stroke="#000" stroke-width="1.4"/>
<line x1="232.47" y1="438.90" x2="236.97" y2="438.90" stroke="#000" stroke-width="1.4"/>
<text x="59.60" y="355.40" font-size="8.3" text-anchor="start" fill="#111" textLength="14.20" lengthAdjust="spacingAndGlyphs" stroke="#111" stroke-width="0.2">Raji</text>
<text transform="translate(18.00,467.50) rotate(-90)" font-size="11.2" font-weight="bold" text-anchor="start" fill="#000" textLength="100.60" lengthAdjust="spacingAndGlyphs">percentage of cells</text>
<rect x="90.80" y="367.40" width="4.00" height="4.00" fill="#fff" stroke="#000" stroke-width="1.5"/>
<text x="96.70" y="372.00" font-size="7.0" text-anchor="start" fill="#111">G1</text>
<rect x="90.80" y="378.40" width="4.00" height="4.00" fill="#808080" stroke="#000" stroke-width="1.5"/>
<text x="96.70" y="383.00" font-size="7.0" text-anchor="start" fill="#111">S/G2</text>
<text x="57.53" y="478.00" font-size="6.8" text-anchor="middle" fill="#222">empty</text>
<text x="62.03" y="486.60" font-size="6.8" text-anchor="middle" fill="#222">0hrs</text>
<text x="95.17" y="478.00" font-size="6.8" text-anchor="middle" fill="#222">shRNA</text>
<text x="94.17" y="486.60" font-size="6.8" text-anchor="middle" fill="#222">EZH2 #1</text>
<text x="95.17" y="495.20" font-size="6.8" text-anchor="middle" fill="#222">0hrs</text>
<text x="128.82" y="478.00" font-size="6.8" text-anchor="middle" fill="#222">shRNA</text>
<text x="127.82" y="486.60" font-size="6.8" text-anchor="middle" fill="#222">EZH2 #2</text>
<text x="128.82" y="495.20" font-size="6.8" text-anchor="middle" fill="#222">0hrs</text>
<text x="157.97" y="478.00" font-size="6.8" text-anchor="middle" fill="#222">empty</text>
<text x="162.17" y="486.60" font-size="6.8" text-anchor="middle" fill="#222">72hrs</text>
<text x="196.12" y="478.00" font-size="6.8" text-anchor="middle" fill="#222">shRNA</text>
<text x="195.12" y="486.60" font-size="6.8" text-anchor="middle" fill="#222">EZH2 #1</text>
<text x="196.12" y="495.20" font-size="6.8" text-anchor="middle" fill="#222">72hrs</text>
<text x="229.77" y="478.00" font-size="6.8" text-anchor="middle" fill="#222">shRNA</text>
<text x="228.77" y="486.60" font-size="6.8" text-anchor="middle" fill="#222">EZH2 #2</text>
<text x="229.77" y="495.20" font-size="6.8" text-anchor="middle" fill="#222">72hrs</text>
<line x1="317.00" y1="369.58" x2="317.00" y2="464.80" stroke="#808080" stroke-width="1.4"/>
<line x1="314.50" y1="464.80" x2="317.00" y2="464.80" stroke="#808080" stroke-width="1"/>
<text x="312.20" y="467.70" font-size="8.2" text-anchor="end" fill="#151515" textLength="3.90" lengthAdjust="spacingAndGlyphs">0</text>
<line x1="314.50" y1="454.22" x2="317.00" y2="454.22" stroke="#808080" stroke-width="1"/>
<text x="312.20" y="457.12" font-size="8.2" text-anchor="end" fill="#151515" textLength="7.40" lengthAdjust="spacingAndGlyphs">10</text>
<line x1="314.50" y1="443.64" x2="317.00" y2="443.64" stroke="#808080" stroke-width="1"/>
<text x="312.20" y="446.54" font-size="8.2" text-anchor="end" fill="#151515" textLength="7.40" lengthAdjust="spacingAndGlyphs">20</text>
<line x1="314.50" y1="433.06" x2="317.00" y2="433.06" stroke="#808080" stroke-width="1"/>
<text x="312.20" y="435.96" font-size="8.2" text-anchor="end" fill="#151515" textLength="7.40" lengthAdjust="spacingAndGlyphs">30</text>
<line x1="314.50" y1="422.48" x2="317.00" y2="422.48" stroke="#808080" stroke-width="1"/>
<text x="312.20" y="425.38" font-size="8.2" text-anchor="end" fill="#151515" textLength="7.40" lengthAdjust="spacingAndGlyphs">40</text>
<line x1="314.50" y1="411.90" x2="317.00" y2="411.90" stroke="#808080" stroke-width="1"/>
<text x="312.20" y="414.80" font-size="8.2" text-anchor="end" fill="#151515" textLength="7.40" lengthAdjust="spacingAndGlyphs">50</text>
<line x1="314.50" y1="401.32" x2="317.00" y2="401.32" stroke="#808080" stroke-width="1"/>
<text x="312.20" y="404.22" font-size="8.2" text-anchor="end" fill="#151515" textLength="7.40" lengthAdjust="spacingAndGlyphs">60</text>
<line x1="314.50" y1="390.74" x2="317.00" y2="390.74" stroke="#808080" stroke-width="1"/>
<text x="312.20" y="393.64" font-size="8.2" text-anchor="end" fill="#151515" textLength="7.40" lengthAdjust="spacingAndGlyphs">70</text>
<line x1="314.50" y1="380.16" x2="317.00" y2="380.16" stroke="#808080" stroke-width="1"/>
<text x="312.20" y="383.06" font-size="8.2" text-anchor="end" fill="#151515" textLength="7.40" lengthAdjust="spacingAndGlyphs">80</text>
<line x1="314.50" y1="369.58" x2="317.00" y2="369.58" stroke="#808080" stroke-width="1"/>
<text x="312.20" y="372.48" font-size="8.2" text-anchor="end" fill="#151515" textLength="7.40" lengthAdjust="spacingAndGlyphs">90</text>
<line x1="316.00" y1="464.80" x2="518.30" y2="464.80" stroke="#808080" stroke-width="1"/>
<line x1="317.00" y1="464.80" x2="317.00" y2="467.30" stroke="#808080" stroke-width="1"/>
<line x1="350.56" y1="464.80" x2="350.56" y2="467.30" stroke="#808080" stroke-width="1"/>
<line x1="384.12" y1="464.80" x2="384.12" y2="467.30" stroke="#808080" stroke-width="1"/>
<line x1="417.68" y1="464.80" x2="417.68" y2="467.30" stroke="#808080" stroke-width="1"/>
<line x1="451.24" y1="464.80" x2="451.24" y2="467.30" stroke="#808080" stroke-width="1"/>
<line x1="484.80" y1="464.80" x2="484.80" y2="467.30" stroke="#808080" stroke-width="1"/>
<line x1="518.36" y1="464.80" x2="518.36" y2="467.30" stroke="#808080" stroke-width="1"/>
<rect x="323.88" y="434.65" width="9.90" height="30.15" fill="#fff" stroke="#000" stroke-width="1.4"/>
<line x1="328.83" y1="433.80" x2="328.83" y2="435.49" stroke="#000" stroke-width="1.4"/>
<line x1="326.58" y1="433.80" x2="331.08" y2="433.80" stroke="#000" stroke-width="1.4"/>
<line x1="326.58" y1="435.49" x2="331.08" y2="435.49" stroke="#000" stroke-width="1.4"/>
<rect x="333.78" y="389.15" width="9.90" height="75.65" fill="#808080" stroke="#000" stroke-width="1.4"/>
<line x1="338.73" y1="387.88" x2="338.73" y2="390.42" stroke="#000" stroke-width="1.4"/>
<line x1="336.48" y1="387.88" x2="340.98" y2="387.88" stroke="#000" stroke-width="1.4"/>
<line x1="336.48" y1="390.42" x2="340.98" y2="390.42" stroke="#000" stroke-width="1.4"/>
<rect x="357.44" y="436.76" width="9.90" height="28.04" fill="#fff" stroke="#000" stroke-width="1.4"/>
<line x1="362.39" y1="436.13" x2="362.39" y2="437.40" stroke="#000" stroke-width="1.4"/>
<line x1="360.14" y1="436.13" x2="364.64" y2="436.13" stroke="#000" stroke-width="1.4"/>
<line x1="360.14" y1="437.40" x2="364.64" y2="437.40" stroke="#000" stroke-width="1.4"/>
<rect x="367.34" y="387.04" width="9.90" height="77.76" fill="#808080" stroke="#000" stroke-width="1.4"/>
<line x1="372.29" y1="385.77" x2="372.29" y2="388.31" stroke="#000" stroke-width="1.4"/>
<line x1="370.04" y1="385.77" x2="374.54" y2="385.77" stroke="#000" stroke-width="1.4"/>
<line x1="370.04" y1="388.31" x2="374.54" y2="388.31" stroke="#000" stroke-width="1.4"/>
<rect x="391.00" y="436.23" width="9.90" height="28.57" fill="#fff" stroke="#000" stroke-width="1.4"/>
<line x1="395.95" y1="435.39" x2="395.95" y2="437.08" stroke="#000" stroke-width="1.4"/>
<line x1="393.70" y1="435.39" x2="398.20" y2="435.39" stroke="#000" stroke-width="1.4"/>
<line x1="393.70" y1="437.08" x2="398.20" y2="437.08" stroke="#000" stroke-width="1.4"/>
<rect x="400.90" y="387.57" width="9.90" height="77.23" fill="#808080" stroke="#000" stroke-width="1.4"/>
<line x1="405.85" y1="386.61" x2="405.85" y2="388.52" stroke="#000" stroke-width="1.4"/>
<line x1="403.60" y1="386.61" x2="408.10" y2="386.61" stroke="#000" stroke-width="1.4"/>
<line x1="403.60" y1="388.52" x2="408.10" y2="388.52" stroke="#000" stroke-width="1.4"/>
<rect x="424.56" y="419.31" width="9.90" height="45.49" fill="#fff" stroke="#000" stroke-width="1.4"/>
<line x1="429.51" y1="413.80" x2="429.51" y2="424.81" stroke="#000" stroke-width="1.4"/>
<line x1="427.26" y1="413.80" x2="431.76" y2="413.80" stroke="#000" stroke-width="1.4"/>
<line x1="427.26" y1="424.81" x2="431.76" y2="424.81" stroke="#000" stroke-width="1.4"/>
<rect x="434.46" y="403.44" width="9.90" height="61.36" fill="#808080" stroke="#000" stroke-width="1.4"/>
<line x1="439.41" y1="397.72" x2="439.41" y2="409.15" stroke="#000" stroke-width="1.4"/>
<line x1="437.16" y1="397.72" x2="441.66" y2="397.72" stroke="#000" stroke-width="1.4"/>
<line x1="437.16" y1="409.15" x2="441.66" y2="409.15" stroke="#000" stroke-width="1.4"/>
<rect x="458.12" y="394.97" width="9.90" height="69.83" fill="#fff" stroke="#000" stroke-width="1.4"/>
<line x1="463.07" y1="394.13" x2="463.07" y2="395.82" stroke="#000" stroke-width="1.4"/>
<line x1="460.82" y1="394.13" x2="465.32" y2="394.13" stroke="#000" stroke-width="1.4"/>
<line x1="460.82" y1="395.82" x2="465.32" y2="395.82" stroke="#000" stroke-width="1.4"/>
<rect x="468.02" y="428.30" width="9.90" height="36.50" fill="#808080" stroke="#000" stroke-width="1.4"/>
<line x1="472.97" y1="427.45" x2="472.97" y2="429.15" stroke="#000" stroke-width="1.4"/>
<line x1="470.72" y1="427.45" x2="475.22" y2="427.45" stroke="#000" stroke-width="1.4"/>
<line x1="470.72" y1="429.15" x2="475.22" y2="429.15" stroke="#000" stroke-width="1.4"/>
<rect x="491.68" y="398.15" width="9.90" height="66.65" fill="#fff" stroke="#000" stroke-width="1.4"/>
<line x1="496.63" y1="395.82" x2="496.63" y2="400.47" stroke="#000" stroke-width="1.4"/>
<line x1="494.38" y1="395.82" x2="498.88" y2="395.82" stroke="#000" stroke-width="1.4"/>
<line x1="494.38" y1="400.47" x2="498.88" y2="400.47" stroke="#000" stroke-width="1.4"/>
<rect x="501.58" y="425.65" width="9.90" height="39.15" fill="#808080" stroke="#000" stroke-width="1.4"/>
<line x1="506.53" y1="423.33" x2="506.53" y2="427.98" stroke="#000" stroke-width="1.4"/>
<line x1="504.28" y1="423.33" x2="508.78" y2="423.33" stroke="#000" stroke-width="1.4"/>
<line x1="504.28" y1="427.98" x2="508.78" y2="427.98" stroke="#000" stroke-width="1.4"/>
<text x="328.10" y="355.20" font-size="8.3" text-anchor="start" fill="#111" textLength="35.10" lengthAdjust="spacingAndGlyphs" stroke="#111" stroke-width="0.2">Namalwa</text>
<text transform="translate(287.60,467.70) rotate(-90)" font-size="11.2" font-weight="bold" text-anchor="start" fill="#000" textLength="100.80" lengthAdjust="spacingAndGlyphs">percentage of cells</text>
<rect x="423.50" y="363.60" width="4.00" height="4.00" fill="#fff" stroke="#000" stroke-width="1.5"/>
<text x="429.40" y="368.20" font-size="7.0" text-anchor="start" fill="#111">G1</text>
<rect x="423.50" y="374.30" width="4.00" height="4.00" fill="#808080" stroke="#000" stroke-width="1.5"/>
<text x="429.40" y="378.90" font-size="7.0" text-anchor="start" fill="#111">S/G2</text>
<text x="329.78" y="478.30" font-size="6.8" text-anchor="middle" fill="#222">empty</text>
<text x="334.28" y="486.90" font-size="6.8" text-anchor="middle" fill="#222">0hrs</text>
<text x="367.34" y="478.30" font-size="6.8" text-anchor="middle" fill="#222">shRNA</text>
<text x="366.34" y="486.90" font-size="6.8" text-anchor="middle" fill="#222">EZH2 #1</text>
<text x="367.34" y="495.50" font-size="6.8" text-anchor="middle" fill="#222">0hrs</text>
<text x="400.90" y="478.30" font-size="6.8" text-anchor="middle" fill="#222">shRNA</text>
<text x="399.90" y="486.90" font-size="6.8" text-anchor="middle" fill="#222">EZH2 #2</text>
<text x="400.90" y="495.50" font-size="6.8" text-anchor="middle" fill="#222">0hrs</text>
<text x="429.96" y="478.30" font-size="6.8" text-anchor="middle" fill="#222">empty</text>
<text x="434.16" y="486.90" font-size="6.8" text-anchor="middle" fill="#222">72hrs</text>
<text x="468.02" y="478.30" font-size="6.8" text-anchor="middle" fill="#222">shRNA</text>
<text x="467.02" y="486.90" font-size="6.8" text-anchor="middle" fill="#222">EZH2 #1</text>
<text x="468.02" y="495.50" font-size="6.8" text-anchor="middle" fill="#222">72hrs</text>
<text x="501.58" y="478.30" font-size="6.8" text-anchor="middle" fill="#222">shRNA</text>
<text x="500.58" y="486.90" font-size="6.8" text-anchor="middle" fill="#222">EZH2 #2</text>
<text x="501.58" y="495.50" font-size="6.8" text-anchor="middle" fill="#222">72hrs</text>
</svg></body></html>
